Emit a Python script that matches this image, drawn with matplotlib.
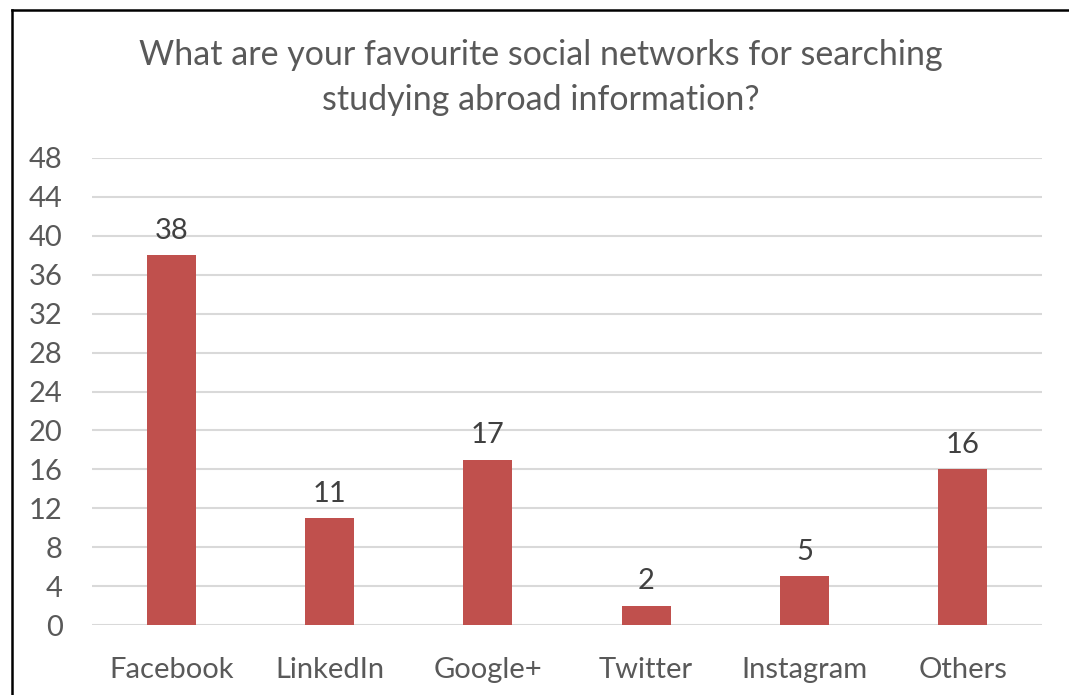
import matplotlib.pyplot as plt
from matplotlib.lines import Line2D

categories = ["Facebook", "LinkedIn", "Google+", "Twitter", "Instagram", "Others"]
counts = [38, 11, 17, 2, 5, 16]
yticks = list(range(0, 49, 4))

W, H = 1069, 695
fig = plt.figure(figsize=(W / 100, H / 100), dpi=100)
plt.rcParams['font.family'] = ['Lato', 'DejaVu Sans']

# plot area in pixels: x 92..1042, y 158..625
ax = fig.add_axes([92 / W, 1 - 625 / H, 950 / W, 467 / H])
x = list(range(len(categories)))
ax.bar(x, counts, width=0.31, color='#C0504D', zorder=3)
for xi, v in zip(x, counts):
    ax.annotate(str(v), (xi, v), xytext=(0, 8), textcoords='offset points',
                ha='center', va='bottom', fontsize=21, color='#404040')

ax.set_xlim(-0.5, len(categories) - 0.5)
ax.set_ylim(0, 48)
ax.set_yticks(yticks)
ax.set_xticks(x)
ax.set_xticklabels(categories)
ax.tick_params(axis='both', length=0, labelsize=21, labelcolor='#595959')
ax.tick_params(axis='x', pad=23)
ax.tick_params(axis='y', pad=21)
for lbl in ax.get_yticklabels():
    lbl.set_horizontalalignment('right')
ax.grid(axis='y', color='#D9D9D9', linewidth=1.5, zorder=0)
for s in ax.spines.values():
    s.set_visible(False)

fig.text(541 / W, 1 - 55 / H, "What are your favourite social networks for searching",
         ha='center', va='center', fontsize=24.5, color='#595959')
fig.text(541 / W, 1 - 100 / H, "studying abroad information?",
         ha='center', va='center', fontsize=24.5, color='#595959')

# outer frame (left and top visible)
fig.add_artist(Line2D([12 / W, 12 / W], [0, 1 - 10 / H], color='black', linewidth=1.8,
                      transform=fig.transFigure))
fig.add_artist(Line2D([12 / W, 1], [1 - 10 / H, 1 - 10 / H], color='black', linewidth=1.8,
                      transform=fig.transFigure))

fig.savefig('out.png', dpi=100)
